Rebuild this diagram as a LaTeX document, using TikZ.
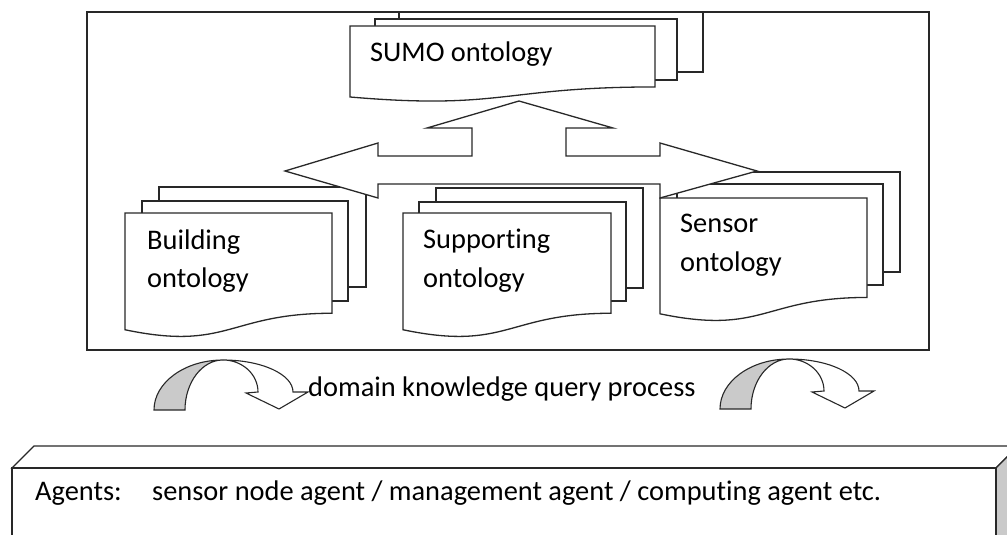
\documentclass[tikz,border=0pt]{standalone}
\usepackage{fontspec}
\setmainfont{Carlito}[Ligatures=NoCommon]
\definecolor{paneshade}{RGB}{202,202,202}
\definecolor{inkline}{RGB}{40,40,40}
\tikzset{
  ln/.style={draw=inkline, line width=1.3pt, line join=miter},
  pagefill/.style={ln, fill=white},
  lbl/.style={anchor=base west, inner sep=0pt, font=\fontsize{28.4}{34}\selectfont},
  % document page with a wavy lower edge (width, height)
  pics/docpage/.style 2 args={code={
    \path[pagefill] (0,0) -- (#1,0) -- (#1,{0.802*#2})
      .. controls ({0.5*#1},{0.802*#2}) and ({0.5*#1},{1.1075*#2}) .. (0,{0.934*#2}) -- cycle;
  }},
  % curled arrow bending over to the right and pointing down
  pics/curlarrow/.style={code={
    \path[ln, line width=1.1pt, fill=paneshade]
      (0,0) .. controls (0,-27.6) and (30.9,-50) .. (69,-50)
      .. controls (48,-50) and (31,-27.6) .. (31,0) -- cycle;
    \path[ln, line width=1.1pt, fill=white]
      (69,-50) .. controls (107.6,-50) and (139,-35.7) .. (139,-18)
      -- (154,-18) -- (125,-1) -- (92,-17) -- (104,-18)
      .. controls (104,-35.7) and (88.3,-50) .. (69,-50) -- cycle;
  }},
}
\begin{document}
\begin{tikzpicture}[x=1pt, y=-1pt]
\clip (0,0) rectangle (1007,535);
\fill[white] (0,0) rectangle (1007,535);

% ontology frame
\path[ln] (87,12) rectangle (929,350);

% Building ontology stack
\path[pagefill] (159,187) rectangle (366,287);
\path[pagefill] (142,201) rectangle (348,301);
\pic at (125,213) {docpage={207}{125}};
\node[lbl] (build1) at (147,249) {Building};
\node[lbl] (build2) at (147,287) {ontology};

% Supporting ontology stack
\path[pagefill] (436,188) rectangle (643,288);
\path[pagefill] (419,202) rectangle (626,301);
\pic at (403,213) {docpage={208}{125}};
\node[lbl] (supp1) at (423,248) {Supporting};
\node[lbl] (supp2) at (423,287) {ontology};

% Sensor ontology stack
\path[pagefill] (693,172) rectangle (900,272);
\path[pagefill] (677,184) rectangle (883,285);
\pic at (660,198) {docpage={207}{124}};
\node[lbl] (sens1) at (680,232) {Sensor};
\node[lbl] (sens2) at (680,271) {ontology};

% three-way block arrow (left, right, up)
\path[pagefill] (519,101) -- (613,128) -- (566,128) -- (566,156) -- (660,156)
  -- (660,143) -- (757,171) -- (660,198) -- (660,184) -- (378,184)
  -- (378,198) -- (285,171) -- (378,143) -- (378,156) -- (472,156)
  -- (472,128) -- (427,128) -- cycle;

% SUMO ontology stack
\path[pagefill] (399,12) rectangle (703,72);
\path[pagefill] (375,19) rectangle (677,80);
\pic at (350,26) {docpage={305}{76}};
\node[lbl] (sumo) at (370,62) {SUMO ontology};

% query process arrows
\pic at (154,410) {curlarrow};
\pic at (720,409) {curlarrow};
\node[lbl] (query) at (308,396) {domain knowledge query process};

% agents block
\path[pagefill] (12,468) -- (34,446) -- (1018,446) -- (996,468) -- cycle;
\path[ln, fill=paneshade] (996,468) -- (1018,446) -- (1018,545) -- (996,545) -- cycle;
\path[pagefill] (12,468) rectangle (996,545);
\node[lbl] (agents) at (35,500) {Agents:};
\node[lbl] (agentlist) at (152,500) {sensor node agent / management agent / computing agent etc.};
\end{tikzpicture}
\end{document}
